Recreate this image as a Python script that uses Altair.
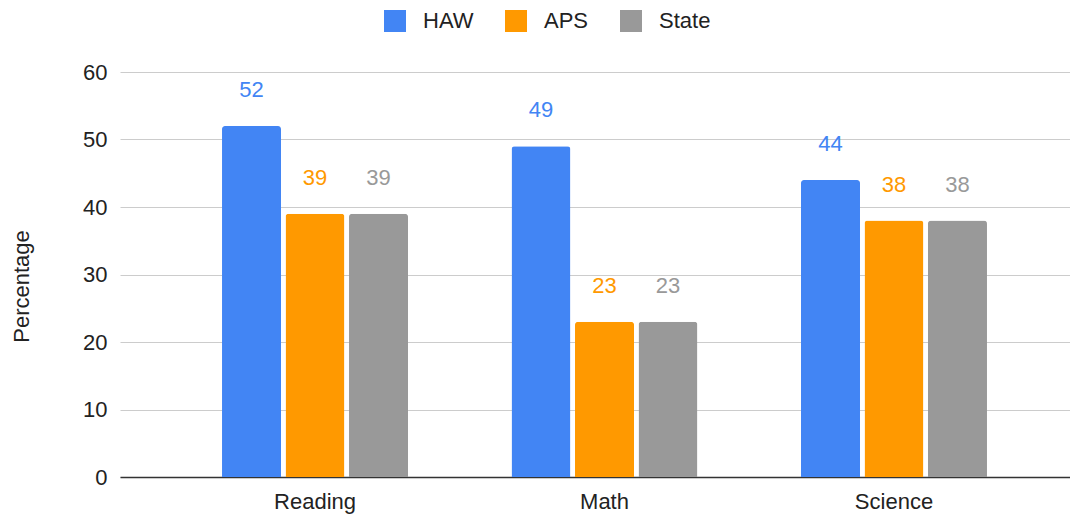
import altair as alt
import pandas as pd

subjects = ["Reading", "Math", "Science"]
series = ["HAW", "APS", "State"]
haw = [52, 49, 44]
aps = [39, 23, 38]
state = [39, 23, 38]
colors = ["#4285F4", "#FF9900", "#999999"]

rows = []
for s, vals in zip(series, [haw, aps, state]):
    for subj, v in zip(subjects, vals):
        rows.append({"Subject": subj, "Series": s, "Value": v})
df = pd.DataFrame(rows)

FONT = "Liberation Sans"

x = alt.X("Subject:N", sort=subjects, title=None,
          scale=alt.Scale(paddingInner=0, paddingOuter=0.1408, align=0.6166),
          axis=alt.Axis(labelAngle=0, labelFontSize=22, labelFont=FONT, labelColor="#222",
                        labelPadding=14, ticks=False, domainColor="#333", domainWidth=1.5,
                        grid=False))
xo = alt.XOffset("Series:N", sort=series,
                 scale=alt.Scale(paddingInner=0.0709, paddingOuter=0.815))
y = alt.Y("Value:Q", title="Percentage",
          scale=alt.Scale(domain=[0, 60], nice=False),
          axis=alt.Axis(values=[0, 10, 20, 30, 40, 50, 60], labelFontSize=22, labelFont=FONT,
                        labelColor="#222", labelPadding=13, ticks=False, domain=False,
                        gridColor="#cccccc", gridWidth=1,
                        titleFont=FONT, titleFontSize=22, titleFontWeight="normal",
                        titleColor="#222", titleX=-87, titleY=214))
color = alt.Color("Series:N", sort=series,
                  scale=alt.Scale(domain=series, range=colors),
                  legend=alt.Legend(title=None, orient="none", legendX=264, legendY=-62,
                                    direction="horizontal", symbolType="square",
                                    symbolSize=484, symbolStrokeWidth=0, labelFontSize=22,
                                    labelFont=FONT, labelColor="#222", labelOffset=17,
                                    columnPadding=31, padding=0))

base = alt.Chart(df).encode(x=x, xOffset=xo, y=y)
bars = base.mark_bar(cornerRadiusTopLeft=3, cornerRadiusTopRight=3).encode(color=color)
labels = base.mark_text(baseline="alphabetic", dy=-29, fontSize=22, font=FONT).encode(
    text="Value:Q",
    color=alt.Color("Series:N", sort=series, scale=alt.Scale(domain=series, range=colors), legend=None),
)

chart = (bars + labels).properties(
    width=950, height=405,
    autosize=alt.AutoSizeParams(type="none"),
    padding={"left": 112, "top": 64, "right": 0, "bottom": 40},
).configure_view(stroke=None)

chart.save("out.html", embed_options={"renderer": "svg", "actions": False})
